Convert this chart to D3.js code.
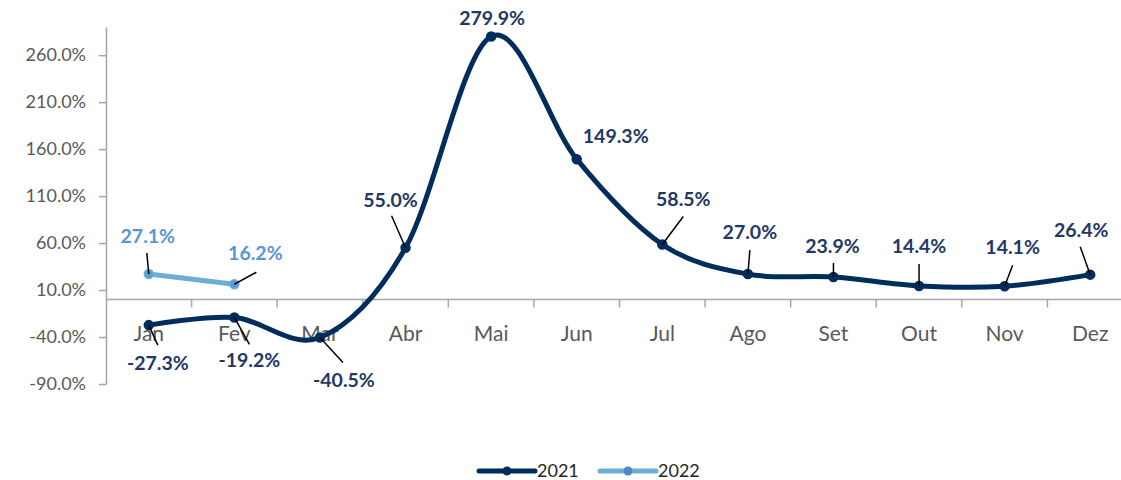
<!DOCTYPE html>
<html>
<head>
<meta charset="utf-8">
<script src="https://cdn.jsdelivr.net/npm/d3@7"></script>
<style>
  body { margin: 0; background: #fff; }
  svg { display: block; font-family: Lato, "Open Sans", sans-serif; }
</style>
</head>
<body>
<svg width="1121" height="480"></svg>
<script>
var months = ['Jan', 'Fev', 'Mar', 'Abr', 'Mai', 'Jun', 'Jul', 'Ago', 'Set', 'Out', 'Nov', 'Dez'];
var values2021 = [-27.3, -19.2, -40.5, 55.0, 279.9, 149.3, 58.5, 27.0, 23.9, 14.4, 14.1, 26.4];
var values2022 = [27.1, 16.2];
var yTicks = [-90, -40, 10, 60, 110, 160, 210, 260];

// label placement relative to each point: [dx, dy, leaderX, leaderY] (leader null = none)
var labelPos2021 = [
    [9, 45, 9, 20], [15, 50, 15, 27], [24, 50, 23, 25], [-15, -41, -14, -32],
    [1, -11, null, null], [39, -16, null, null], [21, -38, 21, -28], [2, -35, 2, -24],
    [-1, -24, 0, -14], [0, -33, 0, -22], [8, -32, 8, -21], [-9, -38, -10, -28]
];
var labelPos2022 = [[-1, -31, -2, -21], [21, -24, 22, -12]];

var dark = '#002d5c', light = '#6baed6';
var svg = d3.select('svg');
var fmt = d3.formatLocale({decimal: '.', thousands: ',', grouping: [3], currency: ['', ''], minus: '-'}).format('.1f');
function pct(d) { return fmt(d) + '%'; }

var x = d3.scaleBand().domain(months).range([106, 1133]).padding(0);
var y = d3.scaleLinear().domain([-90, 290]).range([384, 27]);
function cx(i) { return x(months[i]) + x.bandwidth() / 2; }

// y axis
var yAxis = svg.append('g')
    .attr('transform', 'translate(106,0)')
    .call(d3.axisLeft(y).tickValues(yTicks).tickSize(7).tickSizeOuter(0).tickFormat(pct));
yAxis.select('.domain').attr('stroke', '#a6a6a6').attr('stroke-width', 1.5);
yAxis.selectAll('.tick line').attr('stroke', '#a6a6a6').attr('stroke-width', 1.5);
yAxis.selectAll('.tick text')
    .attr('x', -20)
    .style('font-size', '18px')
    .style('font-family', 'Lato, sans-serif')
    .attr('fill', '#595959');

// x axis at zero
var x0 = y(0);
svg.append('line')
    .attr('x1', 106).attr('x2', 1133)
    .attr('y1', x0).attr('y2', x0)
    .attr('stroke', '#a6a6a6').attr('stroke-width', 1.5);
svg.append('g').selectAll('line')
    .data(months.slice(1))
    .join('line')
    .attr('x1', function(d) { return x(d); })
    .attr('x2', function(d) { return x(d); })
    .attr('y1', x0).attr('y2', x0 + 8)
    .attr('stroke', '#a6a6a6').attr('stroke-width', 1.5);
svg.append('g').selectAll('text')
    .data(months)
    .join('text')
    .attr('x', function(d) { return x(d) + x.bandwidth() / 2; })
    .attr('y', 341)
    .attr('text-anchor', 'middle')
    .style('font-size', '21px')
    .attr('fill', '#595959')
    .text(function(d) { return d; });

function drawSeries(vals, color, markerColor, labelColor, pos) {
    var pts = vals.map(function(v, i) {
        return {v: v, x: cx(i), y: y(v), p: pos[i]};
    });
    var g = svg.append('g');
    var line = d3.line()
        .x(function(d) { return d.x; })
        .y(function(d) { return d.y; })
        .curve(d3.curveCardinal.tension(0));

    g.append('path')
        .datum(pts)
        .attr('d', line)
        .attr('fill', 'none')
        .attr('stroke', color)
        .attr('stroke-width', 5)
        .attr('stroke-linecap', 'round');

    g.selectAll('circle')
        .data(pts)
        .join('circle')
        .attr('cx', function(d) { return d.x; })
        .attr('cy', function(d) { return d.y; })
        .attr('r', 4.5)
        .attr('fill', markerColor)
        .attr('stroke', color)
        .attr('stroke-width', 1.5);

    g.selectAll('line.leader')
        .data(pts.filter(function(d) { return d.p[2] !== null; }))
        .join('line')
        .attr('class', 'leader')
        .attr('x1', function(d) { return d.x; })
        .attr('y1', function(d) { return d.y; })
        .attr('x2', function(d) { return d.x + d.p[2]; })
        .attr('y2', function(d) { return d.y + d.p[3]; })
        .attr('stroke', '#000')
        .attr('stroke-width', 1.5);

    g.selectAll('text')
        .data(pts)
        .join('text')
        .attr('x', function(d) { return d.x + d.p[0]; })
        .attr('y', function(d) { return d.y + d.p[1]; })
        .attr('text-anchor', 'middle')
        .style('font-size', '19.5px')
        .style('font-weight', 'bold')
        .attr('fill', labelColor)
        .text(function(d) { return pct(d.v); });
}

drawSeries(values2021, dark, dark, '#1f3864', labelPos2021);
drawSeries(values2022, light, '#5b9bd5', '#5b95d8', labelPos2022);

// legend
var legend = svg.append('g');
[['2021', dark, dark, 479], ['2022', light, '#4f88c6', 600]].forEach(function(l) {
    legend.append('line')
        .attr('x1', l[3]).attr('x2', l[3] + 56)
        .attr('y1', 471).attr('y2', 471)
        .attr('stroke', l[1]).attr('stroke-width', 5)
        .attr('stroke-linecap', 'round');
    legend.append('circle')
        .attr('cx', l[3] + 28).attr('cy', 471).attr('r', 4.5)
        .attr('fill', l[2]);
    legend.append('text')
        .attr('x', l[3] + 58).attr('y', 477)
        .style('font-size', '18px')
        .attr('fill', '#262626')
        .text(l[0]);
});
</script>
</body>
</html>
